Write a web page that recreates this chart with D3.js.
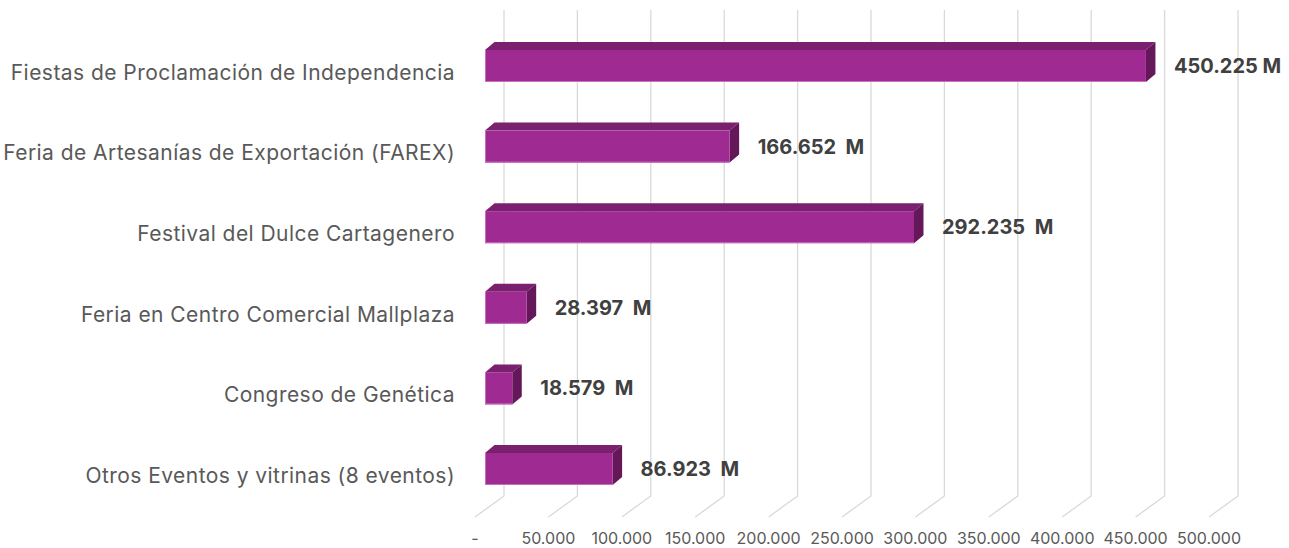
<!DOCTYPE html>
<html><head><meta charset="utf-8">
<script src="https://cdn.jsdelivr.net/npm/d3@7"></script>
<style>body{margin:0;background:#fff}svg{display:block}</style>
</head><body>
<svg id="c" width="1289" height="548"></svg>
<script>
const categories = [
  "Fiestas de Proclamación de Independencia",
  "Feria de Artesanías de Exportación (FAREX)",
  "Festival del Dulce Cartagenero",
  "Feria en Centro Comercial Mallplaza",
  "Congreso de Genética",
  "Otros Eventos y vitrinas (8 eventos)"
];
const values = [450225, 166652, 292235, 28397, 18579, 86923];
const valueLabels = ["450.225 M", "166.652  M", "292.235  M", "28.397  M", "18.579  M", "86.923  M"];
const tickValues = [0, 50000, 100000, 150000, 200000, 250000, 300000, 350000, 400000, 450000, 500000];
const tickLabels = ["-", "50.000", "100.000", "150.000", "200.000", "250.000", "300.000", "350.000", "400.000", "450.000", "500.000"];

const svg = d3.select("#c");
const font = "Inter, 'Open Sans', sans-serif";
const xBack = d3.scaleLinear().domain([0, 500000]).range([504, 1238]);
const y = d3.scalePoint().domain(categories).range([66, 469]);
const floorDx = -29, floorDy = 21;
const gridTop = 10, gridBottom = 496;
const barOffX = -19, barDepthX = 9.5, barDepthY = -8, barH = 32;

// gridlines
const g = svg.append("g");
tickValues.forEach(v => {
  const x = xBack(v);
  g.append("path")
    .attr("d", `M${x},${gridTop}V${gridBottom}L${x + floorDx},${gridBottom + floorDy}`)
    .attr("fill", "none").attr("stroke", "#d9d9d9").attr("stroke-width", 1.3);
});

// tick labels
svg.append("g").selectAll("text").data(tickValues).join("text")
  .attr("x", v => xBack(v) + floorDx)
  .attr("y", gridBottom + floorDy + 21)
  .attr("dy", "0.35em")
  .attr("text-anchor", "middle")
  .attr("font-family", font).attr("font-size", 16).attr("fill", "#595959")
  .text((v, i) => tickLabels[i]);

// bars
const bars = svg.append("g");
categories.forEach((c, i) => {
  const x0 = xBack(0) + barOffX, x1 = xBack(values[i]) + barOffX;
  const yt = y(c) - barH / 2, yb = y(c) + barH / 2;
  bars.append("path")
    .attr("d", `M${x0},${yt}L${x0 + barDepthX},${yt + barDepthY}L${x1 + barDepthX},${yt + barDepthY}L${x1},${yt}Z`)
    .attr("fill", "#7b1f6f");
  bars.append("path")
    .attr("d", `M${x1},${yt}L${x1 + barDepthX},${yt + barDepthY}L${x1 + barDepthX},${yb + barDepthY}L${x1},${yb}Z`)
    .attr("fill", "#64185a");
  bars.append("rect")
    .attr("x", x0).attr("y", yt).attr("width", x1 - x0).attr("height", barH)
    .attr("fill", "#9e2a92");
  bars.append("line")
    .attr("x1", x0).attr("x2", x1).attr("y1", yb - 0.5).attr("y2", yb - 0.5)
    .attr("stroke", "#c86fbd").attr("stroke-width", 1);
  bars.append("line")
    .attr("x1", x0 + 0.5).attr("x2", x0 + 0.5).attr("y1", yt).attr("y2", yb)
    .attr("stroke", "#c86fbd").attr("stroke-width", 1);
});

// value labels
svg.append("g").selectAll("text").data(values).join("text")
  .attr("x", v => xBack(v) + barOffX + 28)
  .attr("y", (v, i) => y(categories[i]))
  .attr("dy", "0.35em")
  .attr("font-family", font).attr("font-size", 20).attr("font-weight", "bold").attr("fill", "#404040")
  .attr("xml:space", "preserve").style("white-space", "pre")
  .text((v, i) => valueLabels[i]);

// category labels
svg.append("g").selectAll("text").data(categories).join("text")
  .attr("x", 455)
  .attr("y", c => y(c) + 6.5)
  .attr("dy", "0.35em")
  .attr("text-anchor", "end")
  .attr("font-family", font).attr("font-size", 21).attr("letter-spacing", 0.45).attr("fill", "#595959")
  .text(c => c);
</script>
</body></html>
